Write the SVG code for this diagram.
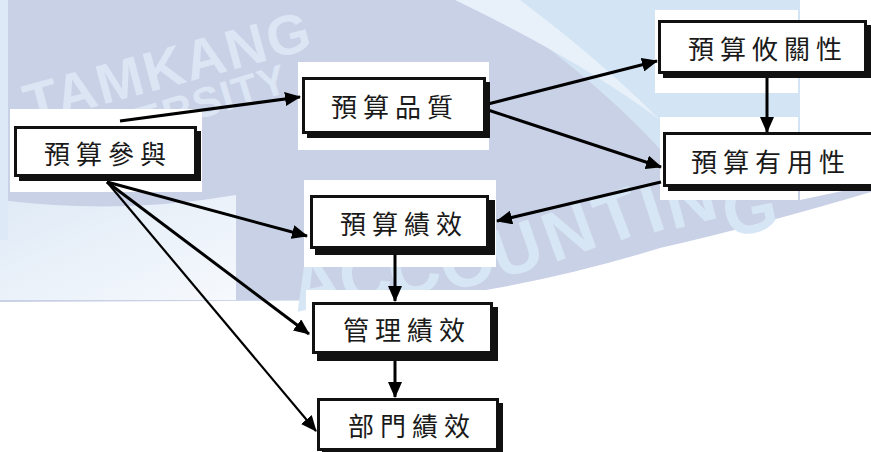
<svg xmlns="http://www.w3.org/2000/svg" width="871" height="452" viewBox="0 0 871 452">
<style>
  .halo { fill: #ffffff; }
  .shadow { fill: #111111; }
  .box { fill: #ffffff; stroke: #111111; stroke-width: 3; }
  .label { font-family: "Noto Sans CJK TC", "Noto Sans CJK SC", sans-serif; font-size: 26px; fill: #1a1a1a; letter-spacing: 6px; text-anchor: middle; dominant-baseline: central; }
  .conn { stroke: #000000; stroke-width: 3; fill: none; marker-end: url(#arrow); }
  .wm { font-family: "Liberation Sans", "DejaVu Sans", sans-serif; font-weight: bold; fill: #dbe5f3; }
  .acc { font-family: "Liberation Sans", "DejaVu Sans", sans-serif; font-weight: bold; fill: #d7e6f5; font-size: 70px; }
</style>
<defs>
  <marker id="arrow" markerUnits="userSpaceOnUse" markerWidth="16" markerHeight="14" refX="15" refY="7" orient="auto">
    <path d="M0,0 L16,7 L0,14 Z" fill="#000000"/>
  </marker>
  <linearGradient id="lightgrad" x1="0" y1="0" x2="1" y2="1">
    <stop offset="0" stop-color="#dfeaf6"/>
    <stop offset="1" stop-color="#f6f9fd"/>
  </linearGradient>
</defs>

<!-- background watermark -->
<g id="background">
  <rect x="0" y="0" width="871" height="452" fill="#ffffff"/>
  <path d="M0,0 L800,0 L800,200 L871,185 L871,192 Q760,225 660,248 Q540,285 420,300 L0,302 Z" fill="#c9d1e7"/>
  <path d="M483,0 L800,0 L800,160 L700,200 Q640,110 483,0 Z" fill="#d3e4f4"/>
  <path d="M455,0 L520,0 Q600,60 660,120 Q580,60 455,0 Z" fill="#e8f1fa"/>
  <path d="M0,200 Q120,215 236,195 L236,300 L0,300 Z" fill="url(#lightgrad)"/>
  <path d="M0,0 L8,0 L8,240 L0,240 Z" fill="#dde9f6"/>
  <text class="wm" font-size="56" transform="translate(30,124) rotate(-15)" letter-spacing="2">TAMKANG</text>
  <text class="wm" font-size="42" transform="translate(40,168) rotate(-17)" letter-spacing="1">UNIVERSITY</text>
  <text class="acc" transform="translate(296,312) rotate(-12)">A</text>
  <text class="acc" transform="translate(346,306) rotate(-14)">C</text>
  <text class="acc" transform="translate(396,300) rotate(-16)">C</text>
  <text class="acc" transform="translate(448,293) rotate(-17)">O</text>
  <text class="acc" transform="translate(500,280) rotate(-19)">U</text>
  <text class="acc" transform="translate(553,263) rotate(-20)">N</text>
  <text class="acc" transform="translate(606,246) rotate(-21)">T</text>
  <text class="acc" transform="translate(650,234) rotate(-18)">I</text>
  <text class="acc" transform="translate(672,230) rotate(-15)">N</text>
  <text class="acc" transform="translate(728,238) rotate(-12)">G</text>
</g>

<!-- white halos behind nodes -->
<g id="halos">
  <rect class="halo" x="10" y="109" width="192" height="83"/>
  <rect class="halo" x="298" y="62" width="191" height="88"/>
  <rect class="halo" x="655" y="10" width="143" height="83"/>
  <rect class="halo" x="660" y="117" width="138" height="83"/>
  <rect class="halo" x="304" y="180" width="192" height="87"/>
  <rect class="halo" x="306" y="290" width="196" height="162"/>
</g>

<g id="connectors">
  <line class="conn" x1="120" y1="121" x2="300" y2="97"/>
  <line class="conn" x1="488" y1="104" x2="657" y2="61"/>
  <line class="conn" x1="488" y1="110" x2="661" y2="167"/>
  <line class="conn" x1="767" y1="78" x2="767" y2="132"/>
  <line class="conn" x1="661" y1="182" x2="497" y2="221"/>
  <line class="conn" x1="107" y1="182" x2="307" y2="236"/>
  <line class="conn" x1="107" y1="182" x2="309" y2="334"/>
  <line class="conn" style="stroke-width:2.2" x1="107" y1="182" x2="316" y2="431"/>
  <line class="conn" x1="395" y1="254" x2="395" y2="301"/>
  <line class="conn" x1="395" y1="359" x2="395" y2="397"/>
</g>

<g id="node-participation">
  <rect class="shadow" x="19" y="131" width="182" height="50"/>
  <rect class="box" x="15.5" y="127.5" width="180" height="48"/>
  <text class="label" x="108" y="152">預算參與</text>
</g>
<g id="node-quality">
  <rect class="shadow" x="307" y="82" width="183" height="56"/>
  <rect class="box" x="303.5" y="78.5" width="181" height="54"/>
  <text class="label" x="395" y="105">預算品質</text>
</g>
<g id="node-relevance">
  <rect class="shadow" x="663" y="25" width="208" height="53"/>
  <rect class="box" x="659.5" y="21.5" width="206" height="51"/>
  <text class="label" x="768" y="47">預算攸關性</text>
</g>
<g id="node-usefulness">
  <rect class="shadow" x="668" y="137" width="210" height="54"/>
  <rect class="box" x="664.5" y="133.5" width="215" height="52"/>
  <text class="label" x="771" y="160">預算有用性</text>
</g>
<g id="node-budget-performance">
  <rect class="shadow" x="315" y="200" width="180" height="55"/>
  <rect class="box" x="311.5" y="196.5" width="176" height="51"/>
  <text class="label" x="404" y="222">預算績效</text>
</g>
<g id="node-management-performance">
  <rect class="shadow" x="317" y="307" width="181" height="54"/>
  <rect class="box" x="313.5" y="303.5" width="178" height="49"/>
  <text class="label" x="407" y="328">管理績效</text>
</g>
<g id="node-department-performance">
  <rect class="shadow" x="322" y="403" width="181" height="55"/>
  <rect class="box" x="318.5" y="399.5" width="179" height="50"/>
  <text class="label" x="412" y="424">部門績效</text>
</g>
</svg>
